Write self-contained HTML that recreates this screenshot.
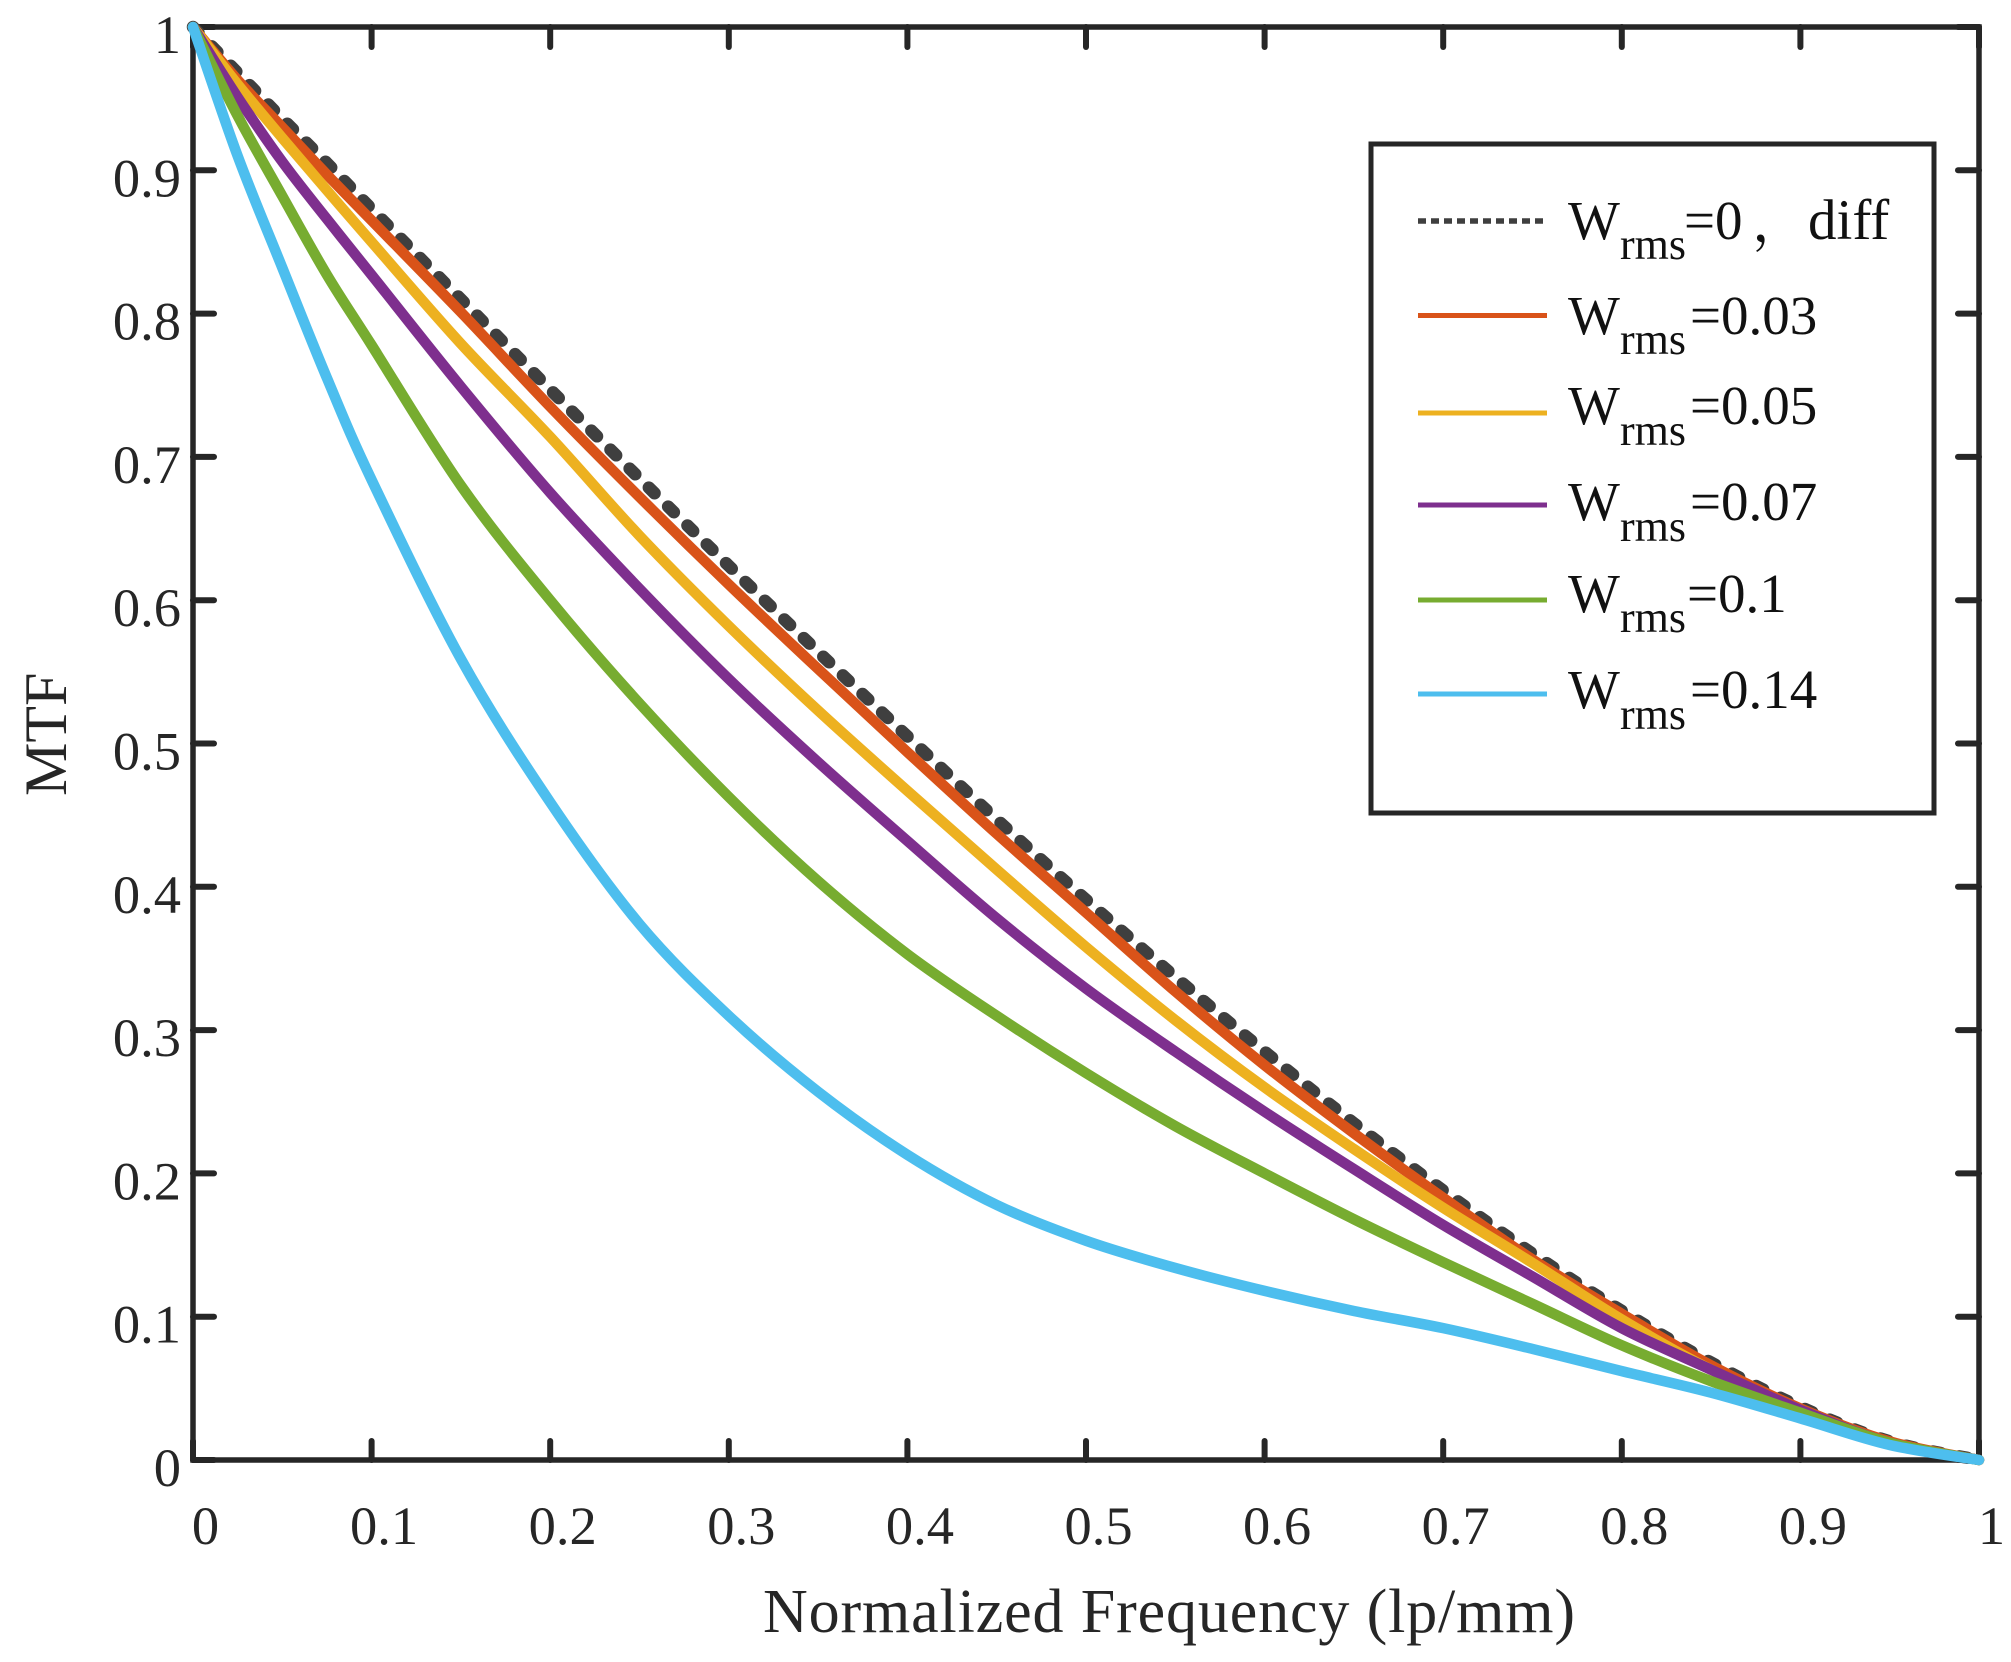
<!DOCTYPE html>
<html lang="en">
<head>
<meta charset="utf-8">
<title>MTF chart</title>
<style>
html,body{margin:0;padding:0;background:#fff;width:2011px;height:1662px;overflow:hidden}
svg{display:block}
text{font-family:"Liberation Serif","Noto Serif CJK SC",serif;fill:#262626}
.lg text{fill:#111}
</style>
</head>
<body>
<svg id="chart" width="2011" height="1662" viewBox="0 0 2011 1662" xmlns="http://www.w3.org/2000/svg">
<rect x="0" y="0" width="2011" height="1662" fill="#fff"/>
<g id="ticks"></g>
<rect x="193" y="27" width="1786" height="1433" fill="none" stroke="#262626" stroke-width="5.5"/>
<g id="labels"></g>
<g id="series-top"></g>
<text x="763" y="1632" font-size="62" textLength="812" lengthAdjust="spacing">Normalized Frequency (lp/mm)</text>
<text transform="translate(66,796) rotate(-90)" font-size="60">MTF</text>
<g class="lg">
<rect x="1371" y="144" width="563" height="669" fill="#fff" stroke="#262626" stroke-width="5"/>
<g id="legend-lines"></g>
<g font-size="55"><text x="1568" y="239">W</text><text x="1620" y="259" font-size="44">rms</text><text x="1684" y="239">=0</text><text x="1752" y="241">，</text><text x="1808" y="239" font-size="57">diff</text></g>
<g font-size="55"><text x="1568" y="334">W</text><text x="1620" y="354" font-size="44">rms</text><text x="1690" y="334">=0.03</text></g>
<g font-size="55"><text x="1568" y="424">W</text><text x="1620" y="445" font-size="44">rms</text><text x="1690" y="424">=0.05</text></g>
<g font-size="55"><text x="1568" y="520">W</text><text x="1620" y="541" font-size="44">rms</text><text x="1690" y="520">=0.07</text></g>
<g font-size="55"><text x="1568" y="612">W</text><text x="1620" y="632" font-size="44">rms</text><text x="1687" y="612">=0.1</text></g>
<g font-size="55"><text x="1568" y="708">W</text><text x="1620" y="729" font-size="44">rms</text><text x="1690" y="708">=0.14</text></g>
</g>
</svg>
<script>
const frequencies = [0,0.025,0.05,0.075,0.1,0.15,0.2,0.25,0.3,0.35,0.4,0.45,0.5,0.55,0.6,0.65,0.7,0.75,0.8,0.85,0.9,0.95,1];
const mtfDiff = [1,0.968,0.936,0.905,0.873,0.81,0.747,0.685,0.624,0.564,0.505,0.447,0.391,0.337,0.285,0.235,0.188,0.144,0.104,0.068,0.037,0.013,0];
const mtf003 = [1,0.963,0.93,0.897,0.865,0.801,0.735,0.672,0.611,0.552,0.494,0.437,0.382,0.327,0.2755,0.228,0.183,0.14,0.102,0.066,0.036,0.013,0];
const mtf005 = [1,0.96,0.9225,0.886,0.85,0.779,0.714,0.645,0.582,0.523,0.467,0.412,0.358,0.307,0.26,0.217,0.176,0.1375,0.098,0.063,0.035,0.012,0];
const mtf007 = [1,0.951,0.906,0.866,0.827,0.749,0.675,0.608,0.545,0.487,0.432,0.378,0.329,0.285,0.243,0.203,0.164,0.128,0.092,0.063,0.035,0.012,0];
const mtf01 = [1,0.938,0.882,0.827,0.778,0.68,0.6,0.528,0.4627,0.404,0.353,0.31,0.27,0.233,0.2,0.168,0.138,0.109,0.08,0.055,0.033,0.012,0];
const mtf014 = [1,0.91,0.832,0.755,0.684,0.559,0.459,0.374,0.31,0.257,0.213,0.178,0.153,0.134,0.118,0.104,0.092,0.0775,0.062,0.047,0.029,0.0105,0];
const xTickLabels = ["0","0.1","0.2","0.3","0.4","0.5","0.6","0.7","0.8","0.9","1"];
const yTickLabels = ["0","0.1","0.2","0.3","0.4","0.5","0.6","0.7","0.8","0.9","1"];

const NS = 'http://www.w3.org/2000/svg';
const xScale = v => 193 + v * 1786;
const yScale = v => 1460 - v * 1433;
function make(tag, parent, attrs) {
  const el = document.createElementNS(NS, tag);
  for (const k in attrs) el.setAttribute(k, attrs[k]);
  parent.appendChild(el);
  return el;
}
const ticks = document.getElementById('ticks');
const labels = document.getElementById('labels');
xTickLabels.forEach(label => {
  const v = parseFloat(label);
  const x = xScale(v);
  const bottom = make('line', ticks, {x1:x, x2:x, y1:1460, y2:1441, stroke:'#262626', 'stroke-width':6, 'stroke-linecap':'round'});
  
  
  const top = make('line', ticks, {x1:x, x2:x, y1:27, y2:47, stroke:'#262626', 'stroke-width':6, 'stroke-linecap':'round'});
  
  
  const t = make('text', labels, {x:x + 12.5, y:1544, 'font-size':54.5, 'text-anchor':'middle'});
  t.textContent = label;
  
  
});
yTickLabels.forEach(label => {
  const v = parseFloat(label);
  const y = yScale(v);
  const left = make('line', ticks, {x1:193, x2:214, y1:y, y2:y, stroke:'#262626', 'stroke-width':6, 'stroke-linecap':'round'});
  
  
  const right = make('line', ticks, {x1:1979, x2:1958, y1:y, y2:y, stroke:'#262626', 'stroke-width':6, 'stroke-linecap':'round'});
  
  
  const t = make('text', labels, {x:181, y:y + 26, 'font-size':54.5, 'text-anchor':'end'});
  t.textContent = label;
  
  
});
function smoothPath(values) {
  const p = values.map((v, i) => [xScale(frequencies[i]), yScale(v)]);
  let d = 'M' + p[0][0] + ' ' + p[0][1];
  for (let i = 0; i < p.length - 1; i++) {
    const a = p[Math.max(i - 1, 0)], b = p[i], c = p[i + 1], e = p[Math.min(i + 2, p.length - 1)];
    const c1 = [b[0] + (c[0] - a[0]) / 6, b[1] + (c[1] - a[1]) / 6];
    const c2 = [c[0] - (e[0] - b[0]) / 6, c[1] - (e[1] - b[1]) / 6];
    d += ' C' + c1.join(' ') + ' ' + c2.join(' ') + ' ' + c.join(' ');
  }
  return d;
}
const seriesTop = document.getElementById('series-top');
const legendLines = document.getElementById('legend-lines');
const legendY = [221, 315.5, 413, 505, 600, 694];
function drawSeries(values, color, name, idx, dash) {
  const path = make('path', seriesTop, {d:smoothPath(values), fill:'none', stroke:color, 'stroke-width':dash ? 12.5 : 10.5, 'stroke-linecap':'round', 'stroke-linejoin':'round'});
  if (dash) path.setAttribute('stroke-dasharray', '8 19');
  
  
  const key = make('line', legendLines, {x1:1418, x2:1547, y1:legendY[idx], y2:legendY[idx], stroke:color, 'stroke-width':5});
  if (dash) {
    key.setAttribute('stroke-dasharray', '8 5');
    key.setAttribute('stroke-width', '5.5');
  }
  
  
}
drawSeries(mtfDiff, '#3F3F3F', 'series-diff', 0, true);
drawSeries(mtf003, '#D95319', 'series-0-03', 1, false);
drawSeries(mtf005, '#EDB120', 'series-0-05', 2, false);
drawSeries(mtf007, '#7E2F8E', 'series-0-07', 3, false);
drawSeries(mtf01, '#77AC30', 'series-0-1', 4, false);
drawSeries(mtf014, '#4DBEEE', 'series-0-14', 5, false);
</script>
</body>
</html>
